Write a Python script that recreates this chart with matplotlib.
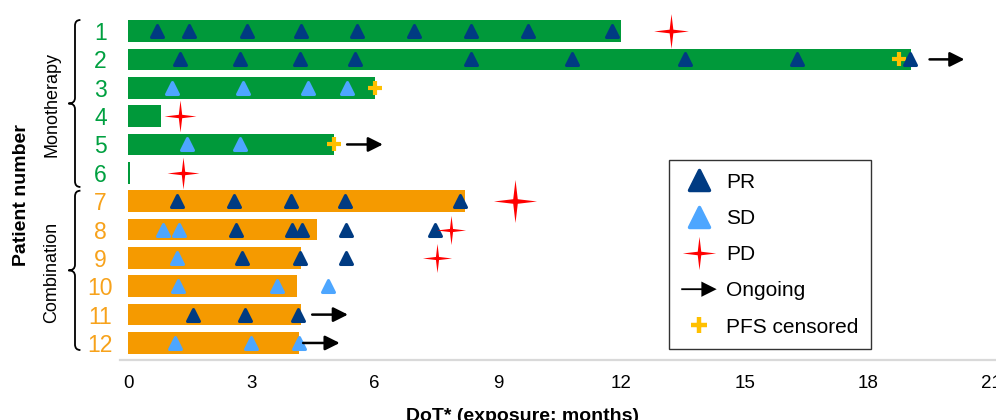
import numpy as np
import matplotlib
matplotlib.use("Agg")
import matplotlib.pyplot as plt
import matplotlib.patches as mpatches
from matplotlib.path import Path
from matplotlib.lines import Line2D
from matplotlib.markers import MarkerStyle
from matplotlib.legend_handler import HandlerPatch
import matplotlib.transforms as mtransforms

plt.rcParams['font.family'] = ['Liberation Sans', 'DejaVu Sans']

# ---- data (months) ----
patients = [1, 2, 3, 4, 5, 6, 7, 8, 9, 10, 11, 12]
group = ['mono'] * 6 + ['combo'] * 6
dot = [12.0, 19.05, 6.0, 0.8, 5.0, 0.05, 8.2, 4.6, 4.2, 4.1, 4.2, 4.15]

pr_times = [
    [0.71, 1.49, 2.9, 4.2, 5.57, 6.96, 8.35, 9.73, 11.78],
    [1.27, 2.73, 4.18, 5.52, 8.35, 10.8, 13.55, 16.28, 19.03],
    [], [], [], [],
    [1.19, 2.58, 3.97, 5.28, 8.08],
    [2.63, 3.99, 4.23, 5.3, 7.47],
    [2.77, 4.18, 5.3],
    [],
    [1.58, 2.85, 4.14],
    [],
]
sd_times = [
    [], [],
    [1.07, 2.8, 4.38, 5.33],
    [],
    [1.44, 2.72],
    [], [],
    [0.85, 1.24],
    [1.19],
    [1.22, 3.63, 4.87],
    [],
    [1.14, 2.99, 4.16],
]
pd_times = [13.2, None, None, 1.27, None, 1.34, 9.42, 7.86, 7.52, None, None, None]
censored = [None, 18.76, 6.0, None, 5.0, None, None, None, None, None, None, None]
ongoing = [None, (19.5, 20.35), None, None, (5.33, 6.2), None, None, None, None, None,
           (4.48, 5.35), (4.26, 5.15)]

# ---- styles ----
green = '#00993A'
orange = '#F59A00'
green_txt = '#00A040'
orange_txt = '#F7A21B'
pr_col = '#003B82'
sd_col = '#4DA6FF'
pd_col = '#FF0000'
cens_col = '#FFC000'
star_sizes = [25, 0, 0, 23, 0, 23, 31, 21, 21, 0, 0, 0]

# 4-pointed star marker
ang = np.arange(8) * np.pi / 4 + np.pi / 2
rad = np.where(np.arange(8) % 2 == 0, 1.0, 0.15)
star_verts = np.column_stack([rad * np.cos(ang), rad * np.sin(ang)])
star_verts = np.vstack([star_verts, star_verts[0]])
star = Path(star_verts, closed=True)
tri = MarkerStyle('^', joinstyle='round')

fig = plt.figure(figsize=(9.96, 4.2), dpi=100)
ax = fig.add_axes([0.1203, 0.1429, 0.879, 0.8305])

ypos = np.array(patients)
cols = [green if g == 'mono' else orange for g in group]
ax.barh(ypos, dot, height=0.76, color=cols, zorder=1)

for i, y in enumerate(ypos):
    if censored[i] is not None:
        ax.plot(censored[i], y, marker='+', ms=10, mew=3, color=cens_col, zorder=2)
    if pr_times[i]:
        ax.plot(pr_times[i], [y] * len(pr_times[i]), ls='none', marker=tri, ms=9,
                mew=2.2, color=pr_col, zorder=3)
    if sd_times[i]:
        ax.plot(sd_times[i], [y] * len(sd_times[i]), ls='none', marker=tri, ms=9,
                mew=2.2, color=sd_col, zorder=3)
    if pd_times[i] is not None:
        ax.plot(pd_times[i], y, marker=star, ms=star_sizes[i], mew=0, color=pd_col, zorder=4)
    if ongoing[i] is not None:
        ax.annotate('', xy=(ongoing[i][1], y), xytext=(ongoing[i][0], y),
                    arrowprops=dict(arrowstyle='-|>', color='k', lw=1.8,
                                    mutation_scale=22, shrinkA=0, shrinkB=0), zorder=5)

ax.set_xlim(-0.2, 21.1)
ax.set_ylim(12.6, 0.3)
ax.set_xticks([0, 3, 6, 9, 12, 15, 18, 21])
ax.tick_params(axis='x', length=0, labelsize=13.5, pad=11)
ax.set_yticks(ypos)
ax.set_yticklabels([str(p) for p in patients])
ax.tick_params(axis='y', length=0, labelsize=16.5, pad=14)
for lab, g in zip(ax.get_yticklabels(), group):
    lab.set_color(green_txt if g == 'mono' else orange_txt)
    lab.set_horizontalalignment('center')
for s in ['top', 'right', 'left']:
    ax.spines[s].set_visible(False)
ax.spines['bottom'].set_color('#D9D9D9')
ax.spines['bottom'].set_linewidth(1.6)

# group braces
trans = mtransforms.blended_transform_factory(ax.transAxes, ax.transData)
def brace(top, bottom, x=-0.0512):
    mid = (top + bottom) / 2
    h = 0.0062
    d = 0.2
    verts = [(x + h, top), (x, top), (x, top + d),
             (x, mid - d), (x, mid), (x - h * 1.2, mid),
             (x, mid), (x, mid + d),
             (x, bottom - d), (x, bottom), (x + h, bottom)]
    codes = [Path.MOVETO, Path.CURVE3, Path.CURVE3,
             Path.LINETO, Path.CURVE3, Path.CURVE3,
             Path.CURVE3, Path.CURVE3,
             Path.LINETO, Path.CURVE3, Path.CURVE3]
    p = mpatches.PathPatch(Path(verts, codes), fc='none', ec='k', lw=1.3,
                           transform=trans, clip_on=False)
    ax.add_patch(p)

brace(0.61, 6.5)
brace(6.63, 12.25)
ax.text(-0.0775, 3.6, 'Monotherapy', rotation=90, ha='center', va='center',
        fontsize=13, transform=trans)
ax.text(-0.0775, 9.5, 'Combination', rotation=90, ha='center', va='center',
        fontsize=13, transform=trans)

fig.text(22 / 996, 0.536, 'Patient number', rotation=90, ha='center', va='center',
         fontsize=14, fontweight='bold')
fig.text(522 / 996, -1 / 420, 'DoT* (exposure; months)', ha='center', va='baseline',
         fontsize=14, fontweight='bold')

# legend
def make_arrow(legend, orig_handle, xdescent, ydescent, width, height, fontsize):
    return mpatches.FancyArrow(0, height / 2, width, 0, width=1.3, head_width=11,
                               head_length=11, length_includes_head=True)

handles = [
    Line2D([], [], ls='none', marker=tri, ms=15, mew=2.5, color=pr_col),
    Line2D([], [], ls='none', marker=tri, ms=15, mew=2.5, color=sd_col),
    Line2D([], [], ls='none', marker=star, ms=24, mew=0, color=pd_col),
    mpatches.FancyArrow(0, 0, 1, 0, color='k', lw=0),
    Line2D([], [], ls='none', marker='+', ms=11, mew=3.2, color=cens_col),
]
labels = ['PR', 'SD', 'PD', 'Ongoing', 'PFS censored']
leg = ax.legend(handles, labels, loc='upper left', bbox_to_anchor=(0.627, 0.573),
                borderaxespad=0, frameon=True, fancybox=False, fontsize=15,
                handlelength=1.7, handletextpad=0.45, labelspacing=0.83,
                borderpad=0.6,
                handler_map={mpatches.FancyArrow: HandlerPatch(patch_func=make_arrow)})
leg.get_frame().set_edgecolor('k')
leg.get_frame().set_linewidth(1.0)

fig.savefig('out.png', dpi=100)
